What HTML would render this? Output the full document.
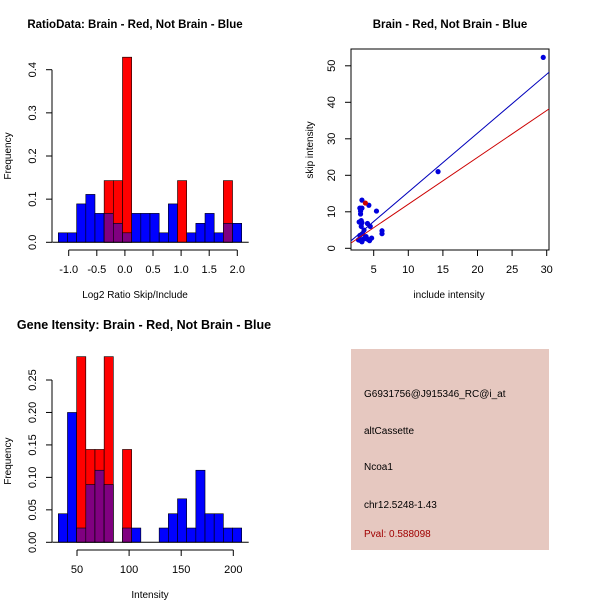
<!DOCTYPE html>
<html><head><meta charset="utf-8"><style>
body{margin:0;background:#fff;}
svg{display:block;font-family:"Liberation Sans",sans-serif;}
</style></head><body>
<svg width="600" height="600" viewBox="0 0 600 600">
<g id="p1"></g>
<g id="p2"></g>
<g id="p3"></g>
<g>
<rect x="351" y="349" width="198" height="201" fill="#e6c8c0"/>
<text x="364" y="397" font-size="10">G6931756@J915346_RC@i_at</text>
<text x="364" y="434" font-size="10">altCassette</text>
<text x="364" y="470" font-size="10">Ncoa1</text>
<text x="364" y="508" font-size="10">chr12.5248-1.43</text>
<text x="364" y="537" font-size="10" fill="#a00000">Pval: 0.588098</text>
</g>
</svg>
<script>
// ---- Plot 1 data ----
const ratioBlue=[0.022,0.022,0.089,0.111,0.067,0.067,0.044,0.022,0.067,0.067,0.067,0.022,0.089,0,0.022,0.044,0.067,0.022,0.044,0.044];
const ratioRed=[0,0,0,0,0,0.143,0.143,0.429,0,0,0,0,0,0.143,0,0,0,0,0.143,0];
const ratioXTicks=[-1.0,-0.5,0.0,0.5,1.0,1.5,2.0];
const ratioYTicks=[0.0,0.1,0.2,0.3,0.4];
// ---- Plot 3 data ----
const intBlue=[0.044,0.2,0.022,0.089,0.111,0.089,0,0.022,0.022,0,0,0.022,0.044,0.067,0.022,0.111,0.044,0.044,0.022,0.022];
const intRed=[0,0,0.286,0.143,0.143,0.286,0,0.143,0,0,0,0,0,0,0,0,0,0,0,0];
const intXTicks=[50,100,150,200];
const intYTicks=[0.00,0.05,0.10,0.15,0.20,0.25];
// ---- Plot 2 data ----
const incl=[29.5,14.3,5.4,4.3,3.3,3.0,3.3,3.1,3.1,2.9,3.2,3.3,4.1,4.5,6.2,6.2,4.7,4.4,3.0,3.3,3.5,3.8,3.4,3.6,3.2,4.0,3.0,2.8,3.9,4.2];
const skip=[52.3,21,10.2,11.8,13.2,11,11,10.2,9.4,7.2,7.6,7,6.8,6,4.8,4,2.8,2.1,2.2,1.8,2.5,3,4,5,6,2.6,3.5,2.3,3.2,2.4];
const redIncl=[3.8];
const redSkip=[12.4];
const fitBlue=[1.614,-0.73];
const fitRed=[1.284,-0.77];
const scXTicks=[5,10,15,20,25,30];
const scYTicks=[0,10,20,30,40,50];

const NS="http://www.w3.org/2000/svg";
function mk(parent,tag,attrs,txt){const e=document.createElementNS(NS,tag);for(const k in attrs)e.setAttribute(k,attrs[k]);if(txt!==undefined)e.textContent=txt;parent.appendChild(e);return e;}

function hist(g,blue,red,x0,bw,yfun,xTickVals,xfun,yTicks,axisY,yAxisX,tickFmt,title,titleX,titleSize,xlabel,xlabelX){
  const y0=yfun(0);
  for(let i=0;i<blue.length;i++){
    const x=x0+i*bw;
    if(blue[i]>0){const r=mk(g,'rect',{x:x,y:yfun(blue[i]),width:bw,height:y0-yfun(blue[i]),fill:'#0000ff',stroke:'#000','stroke-width':0.6});
      
      }
    if(red[i]>0){const r=mk(g,'rect',{x:x,y:yfun(red[i]),width:bw,height:y0-yfun(red[i]),fill:'#ff0000',stroke:'#000','stroke-width':0.6});
      
      
      const m=Math.min(blue[i],red[i]);
      if(m>0){const p=mk(g,'rect',{x:x,y:yfun(m),width:bw,height:y0-yfun(m),fill:'#800080',stroke:'#000','stroke-width':0.6});
        
        }}
  }
  mk(g,'line',{x1:x0-6,x2:x0+bw*blue.length+7,y1:y0,y2:y0,stroke:'#000'});
  mk(g,'line',{x1:yAxisX,x2:yAxisX,y1:yfun(yTicks[0]),y2:yfun(yTicks[yTicks.length-1]),stroke:'#000'});
  yTicks.forEach(v=>{const y=yfun(v);mk(g,'line',{x1:yAxisX-6,x2:yAxisX,y1:y,y2:y,stroke:'#000'});
    const tx=yAxisX-16;
    const t=mk(g,'text',{x:tx,y:y,'font-size':11,'text-anchor':'middle',transform:`rotate(-90 ${tx} ${y})`},v.toFixed(tickFmt));
    
    });
  mk(g,'line',{x1:xfun(xTickVals[0]),x2:xfun(xTickVals[xTickVals.length-1]),y1:axisY,y2:axisY,stroke:'#000'});
  xTickVals.forEach(v=>{const x=xfun(v);mk(g,'line',{x1:x,x2:x,y1:axisY,y2:axisY+6,stroke:'#000'});
    const t=mk(g,'text',{x:x,y:axisY+23,'font-size':11,'text-anchor':'middle'},typeof v==='number'&&tickFmt===1&&Math.abs(v)<10?v.toFixed(1):String(v));
    
    });
  const tt=mk(g,'text',{x:titleX,y:(axisY<300?28:329),'font-size':titleSize,'font-weight':'bold','text-anchor':'middle'},title);
  
  
  const xl=mk(g,'text',{x:xlabelX,y:axisY+48,'font-size':10,'text-anchor':'middle'},xlabel);
  
  
  const yc=(yfun(yTicks[0])+yfun(yTicks[yTicks.length-1]))/2;
  const yl=mk(g,'text',{x:11,y:yc,'font-size':10,'text-anchor':'middle',transform:`rotate(-90 11 ${yc})`},'Frequency');
  
  
}
const p1=document.getElementById('p1');
hist(p1,ratioBlue,ratioRed,58.3,9.17,v=>242.3-v*431.5,ratioXTicks,v=>68.7+(v+1)*56.2,ratioYTicks,250,52,1,'RatioData: Brain - Red, Not Brain - Blue',135,11.5,'Log2 Ratio Skip/Include',135);
const p3=document.getElementById('p3');
hist(p3,intBlue,intRed,58.3,9.17,v=>542.3-v*649.2,intXTicks,v=>77+(v-50)*1.042,intYTicks,550,52,2,'Gene Itensity: Brain - Red, Not Brain - Blue',144,12.5,'Intensity',150);

const p2=document.getElementById('p2');
const sx=v=>339.1+v*6.92, sy=v=>248.3-v*3.65;
mk(p2,'rect',{x:351,y:49,width:198,height:201,fill:'none',stroke:'#000'});
const cp=mk(p2,'clipPath',{id:'c2'});mk(cp,'rect',{x:351,y:49,width:198,height:201});
incl.forEach((v,i)=>{const c=mk(p2,'circle',{cx:sx(v),cy:sy(skip[i]),r:2.6,fill:'#0000dd'});
  
  });
redIncl.forEach((v,i)=>{const c=mk(p2,'circle',{cx:sx(v),cy:sy(redSkip[i]),r:2.6,fill:'#cc0000'});
  
  });
[[fitBlue,'#0000bb','blue-fit-line'],[fitRed,'#cc0000','red-fit-line']].forEach(([f,c,n])=>{
  const l=mk(p2,'line',{x1:sx(1.7),y1:sy(f[0]*1.7+f[1]),x2:sx(30.6),y2:sy(f[0]*30.6+f[1]),stroke:c,'stroke-width':1,'clip-path':'url(#c2)'});
  
  });
mk(p2,'line',{x1:sx(5),x2:sx(30),y1:250,y2:250,stroke:'#000'});
scXTicks.forEach(v=>{mk(p2,'line',{x1:sx(v),x2:sx(v),y1:250,y2:256,stroke:'#000'});
  const t=mk(p2,'text',{x:sx(v),y:273,'font-size':11,'text-anchor':'middle'},String(v));
  
  });
scYTicks.forEach(v=>{mk(p2,'line',{x1:345,x2:351,y1:sy(v),y2:sy(v),stroke:'#000'});
  const t=mk(p2,'text',{x:335,y:sy(v),'font-size':11,'text-anchor':'middle',transform:`rotate(-90 335 ${sy(v)})`},String(v));
  
  });
let t=mk(p2,'text',{x:450,y:28,'font-size':11.5,'font-weight':'bold','text-anchor':'middle'},'Brain - Red, Not Brain - Blue');


t=mk(p2,'text',{x:449,y:298,'font-size':10,'text-anchor':'middle'},'include intensity');


t=mk(p2,'text',{x:313,y:150,'font-size':10,'text-anchor':'middle',transform:'rotate(-90 313 150)'},'skip intensity');


</script>
</body></html>
